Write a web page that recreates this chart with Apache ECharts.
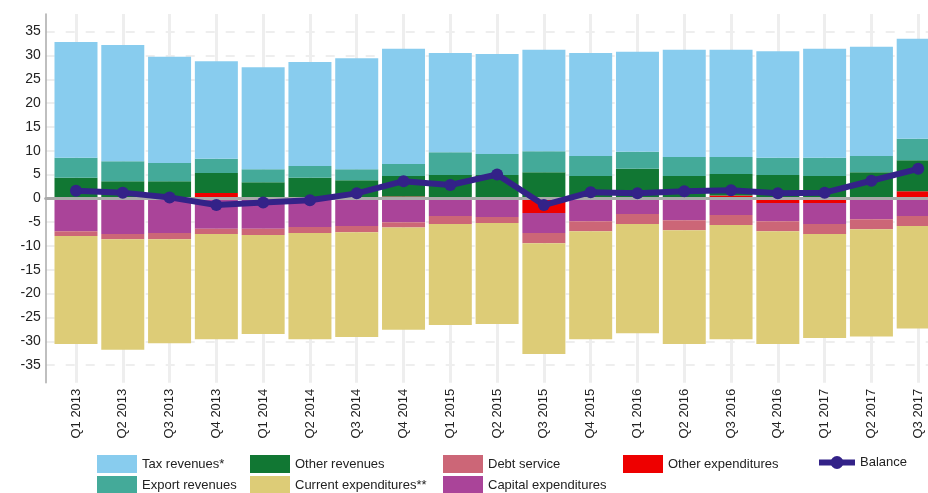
<!DOCTYPE html>
<html><head><meta charset="utf-8">
<script src="https://cdn.jsdelivr.net/npm/echarts@6/dist/echarts.min.js"></script>
<style>html,body{margin:0;padding:0;background:#fff}#c{width:928px;height:493px}</style>
</head><body><div id="c"></div>
<script>
const categories = ['Q1 2013','Q2 2013','Q3 2013','Q4 2013','Q1 2014','Q2 2014','Q3 2014','Q4 2014','Q1 2015','Q2 2015','Q3 2015','Q4 2015','Q1 2016','Q2 2016','Q3 2016','Q4 2016','Q1 2017','Q2 2017','Q3 2017'];
const taxRevenues        = [24.3, 24.4, 22.3, 20.5, 21.4, 21.8, 23.3, 24.2, 20.8, 21.0, 21.3, 21.6, 21.0, 22.5, 22.5, 22.4, 22.9, 22.9, 21.0];
const exportRevenues     = [4.2, 4.2, 3.8, 3.0, 2.7, 2.5, 2.3, 2.5, 4.8, 4.4, 4.4, 4.2, 3.6, 4.0, 3.6, 3.6, 3.8, 3.4, 4.5];
const otherRevenues      = [4.3, 3.6, 3.6, 4.2, 3.4, 4.3, 3.8, 4.3, 4.9, 4.9, 5.5, 4.7, 6.2, 4.7, 4.5, 4.9, 4.7, 5.5, 6.5];
const otherExpenditures  = [0, 0, 0, 1.1, 0, 0, 0, 0.4, 0, 0, -3.1, -0.3, 0, -0.3, 0.6, -1.0, -1.0, 0, 1.5];
const capitalExpenditures= [-6.9, -7.5, -7.3, -6.4, -6.4, -6.0, -5.8, -5.0, -3.7, -3.9, -4.2, -4.5, -3.3, -4.3, -3.5, -3.8, -4.4, -4.4, -3.7];
const debtService        = [-1.0, -1.1, -1.3, -1.1, -1.3, -1.3, -1.3, -1.1, -1.7, -1.3, -2.1, -2.1, -2.1, -2.1, -2.1, -2.1, -2.1, -2.1, -2.1];
const currentExpenditures= [-22.7, -23.2, -21.8, -22.1, -20.8, -22.3, -22.0, -21.5, -21.2, -21.2, -23.3, -22.7, -22.9, -23.9, -24.0, -23.7, -21.8, -22.5, -21.5];
const balance            = [1.6, 1.2, 0.2, -1.4, -0.85, -0.4, 1.05, 3.6, 2.8, 5.0, -1.4, 1.3, 1.05, 1.5, 1.7, 1.05, 1.2, 3.7, 6.2];
const yTicks             = [-35, -30, -25, -20, -15, -10, -5, 0, 5, 10, 15, 20, 25, 30, 35];

const FONT = 'Liberation Sans, Arial, sans-serif';
const Y_MIN = -38.7, Y_MAX = 38.7;

function barSeries(name, data, color) {
  return { name: name, type: 'bar', stack: 'total', barWidth: 43,
    xAxisIndex: 0, yAxisIndex: 0, itemStyle: { color: color }, data: data };
}

function lg(name, left, top, extra) {
  return Object.assign({
    data: [name], left: left, top: top, padding: 0, icon: 'rect',
    itemWidth: 40, itemHeight: 18, selectedMode: false,
    textStyle: { fontFamily: FONT, fontSize: 13, color: '#222' }
  }, extra || {});
}

const chart = echarts.init(document.getElementById('c'), null, { renderer: 'canvas' });

chart.setOption({
  animation: false,
  backgroundColor: '#ffffff',
  textStyle: { fontFamily: FONT },
  grid: [
    { left: 52.6, top: 14, width: 889, height: 368.7, outerBoundsMode: 'none', containLabel: false },
    { left: 45.7, top: 14, right: 0, height: 368.7, outerBoundsMode: 'none', containLabel: false }
  ],
  legend: [
    lg('Tax revenues*', 97, 455),
    lg('Other revenues', 250, 455),
    lg('Debt service', 443, 455),
    lg('Other expenditures', 623, 455),
    lg('Balance', 816, 456, { icon: null, itemWidth: 36, itemHeight: 16,
      lineStyle: { width: 6 }, itemStyle: { color: '#332288' } }),
    lg('Export revenues', 97, 476),
    lg('Current expenditures**', 250, 476),
    lg('Capital expenditures', 443, 476)
  ],
  xAxis: [
    {
      gridIndex: 0, type: 'category', data: categories, boundaryGap: true,
      axisLine: { show: false, onZero: false },
      axisTick: { show: false },
      axisLabel: { interval: 0, rotate: 90, margin: 6, fontSize: 13, color: '#222', fontFamily: FONT },
      splitLine: { show: true, interval: 0, alignWithLabel: true,
        lineStyle: { color: '#eeeeee', width: 3, type: 'solid' } }
    },
    {
      gridIndex: 1, type: 'value', min: 0, max: 1, z: 5,
      axisLine: { show: true, onZero: true, lineStyle: { color: '#aaaaaa', width: 3 } },
      axisTick: { show: false }, axisLabel: { show: false }, splitLine: { show: false }
    }
  ],
  yAxis: [
    { gridIndex: 0, type: 'value', min: Y_MIN, max: Y_MAX, show: false, splitLine: { show: false } },
    {
      gridIndex: 1, type: 'value', min: Y_MIN, max: Y_MAX,
      axisLine: { show: true, onZero: false, lineStyle: { color: '#aaaaaa', width: 1.5 } },
      axisTick: { show: false, customValues: yTicks },
      axisLabel: { color: '#222', fontSize: 14, margin: 5, fontFamily: FONT, customValues: yTicks },
      splitLine: { show: true, lineStyle: { color: '#eeeeee', width: 2, type: [9, 11] } }
    }
  ],
  series: [
    barSeries('Other expenditures', otherExpenditures, '#ee0000'),
    barSeries('Other revenues', otherRevenues, '#117733'),
    barSeries('Export revenues', exportRevenues, '#44aa99'),
    barSeries('Tax revenues*', taxRevenues, '#88ccee'),
    barSeries('Capital expenditures', capitalExpenditures, '#aa4499'),
    barSeries('Debt service', debtService, '#cc6677'),
    barSeries('Current expenditures**', currentExpenditures, '#ddcc77'),
    {
      name: 'Balance', type: 'line', z: 10, xAxisIndex: 0, yAxisIndex: 0, data: balance,
      symbol: 'circle', symbolSize: 12, showSymbol: true,
      itemStyle: { color: '#332288' },
      lineStyle: { color: '#332288', width: 6 }
    }
  ]
});
</script>
</body></html>
